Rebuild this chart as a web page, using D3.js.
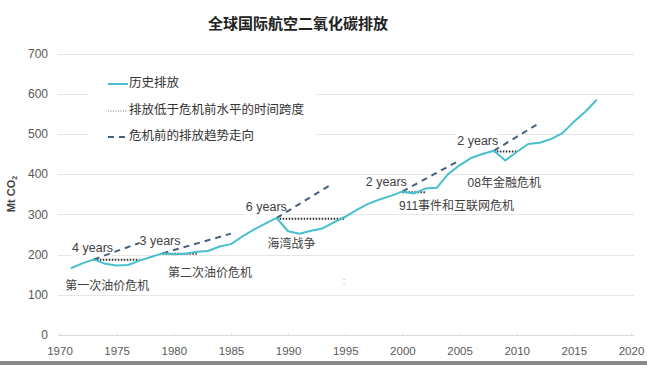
<!DOCTYPE html>
<html><head><meta charset="utf-8">
<script src="https://cdn.jsdelivr.net/npm/d3@7/dist/d3.min.js"></script>
<style>
html,body{margin:0;padding:0;background:#fff;}
svg{display:block;font-family:"Liberation Sans","Noto Sans CJK SC",Arial,sans-serif;}
</style></head>
<body>
<svg id="chart" width="647" height="365"></svg>
<script>
// ---- data ----
const years = [1971,1972,1973,1974,1975,1976,1977,1978,1979,1980,1981,1982,1983,1984,1985,1986,1987,1988,1989,1990,1991,1992,1993,1994,1995,1996,1997,1998,1999,2000,2001,2002,2003,2004,2005,2006,2007,2008,2009,2010,2011,2012,2013,2014,2015,2016,2017];
const emissions = [166,178,188,177,173,174,185,194,203,201,202,207,209,220,226,245,262,277,291,258,252,259,265,280,294,311,326,337,346,357,352,364,366,400,422,440,450,458,434,455,475,478,487,502,530,555,585];
// time span below pre-crisis level: [startYear, endYear, level]
const spanStart = [1973,1979,1989,2000,2008];
const spanEnd   = [1977,1982,1995,2002,2010];
const spanLevel = [187,202,289,355,456];
// pre-crisis trend: [startYear, startValue, endYear, endValue]
const trendStartYear = [1973,1979,1989,2000,2008];
const trendStartVal  = [188,203,291,357,458];
const trendEndYear   = [1977,1985,1993.7,2004.8,2011.8];
const trendEndVal    = [229,252,373,431,524];
// annotations (anchored in data space)
const spanLabels = ["4 years","3 years","6 years","2 years","2 years"];
const spanLabelYear = [1971.1,1977.0,1986.3,1996.8,2004.8];
const spanLabelVal  = [214,231,317,378,481];
const crisisLabels = ["第一次油价危机","第二次油价危机","海湾战争","911事件和互联网危机","08年金融危机"];
const crisisYear = [1970.5,1979.5,1988.2,1999.7,2005.7];
const crisisVal  = [120,153,224,318,375];
const yTicks = [0,100,200,300,400,500,600,700];
const xTicks = [1970,1975,1980,1985,1990,1995,2000,2005,2010,2015,2020];
const legendLabels = ["历史排放","排放低于危机前水平的时间跨度","危机前的排放趋势走向"];
const title = "全球国际航空二氧化碳排放";

// ---- drawing ----
const svg = d3.select("#chart");
const x = d3.scaleLinear().domain([1970,2020]).range([59.5,631]);
const y = d3.scaleLinear().domain([0,700]).range([335,53.5]);
const cLine = "#47bfcf", cDash = "#44607e", cDot = "#2b2b2b", cText = "#404040", cTick = "#595959";

svg.append("rect").attr("width",647).attr("height",365).attr("fill","#fff");

// title
svg.append("text").attr("x",298).attr("y",25).attr("text-anchor","middle")
  .attr("dominant-baseline","middle").attr("font-size",15).attr("font-weight","bold")
  .attr("fill","#222").text(title);

// grid
svg.append("g").selectAll("line").data(yTicks).join("line")
  .attr("x1",58).attr("x2",634).attr("y1",d=>Math.round(y(d))+0.5).attr("y2",d=>Math.round(y(d))+0.5)
  .attr("stroke",d=>d===0?"#d9d9d9":"#e6e6e6").attr("stroke-width",1);

// y axis labels
const yAxis = d3.axisLeft(y).tickValues(yTicks).tickSize(0).tickPadding(0);
const gy = svg.append("g").attr("transform","translate(48,0)").call(yAxis);
gy.select(".domain").remove();
gy.selectAll("text").attr("font-size",12).attr("fill",cTick).attr("font-family","Liberation Sans, Arial, sans-serif");

// x axis
const xAxis = d3.axisBottom(x).tickValues(xTicks).tickFormat(d3.format("d")).tickSize(3).tickPadding(8);
const gx = svg.append("g").attr("transform","translate(0,335.5)").call(xAxis);
gx.select(".domain").remove();
gx.selectAll(".tick line").attr("stroke","#e0e0e0").attr("y2",-3);
gx.selectAll("text").attr("font-size",11.5).attr("fill",cTick).attr("font-family","Liberation Sans, Arial, sans-serif");

// y axis title
svg.append("text").attr("transform","translate(15,194) rotate(-90)")
  .attr("text-anchor","middle").attr("font-size",11).attr("font-weight","bold").attr("fill",cText)
  .call(t=>{t.append("tspan").text("Mt CO");t.append("tspan").attr("font-size",7).attr("dy",2).text("2");});

// legend background
svg.append("rect").attr("x",88).attr("y",68).attr("width",228).attr("height",82).attr("fill","#fff");

// trend lines (dashed)
const trends = trendStartYear.map((d,i)=>[[d,trendStartVal[i]],[trendEndYear[i],trendEndVal[i]]]);
const lineGen = d3.line().x(d=>x(d[0])).y(d=>y(d[1]));

// label backgrounds + span labels
const sl = svg.append("g").selectAll("g").data(spanLabels).join("g");
sl.append("rect").attr("x",(d,i)=>x(spanLabelYear[i])-1).attr("y",(d,i)=>y(spanLabelVal[i])-8)
  .attr("width",41).attr("height",15).attr("fill","#fff");

svg.append("g").selectAll("path").data(trends).join("path")
  .attr("d",lineGen).attr("fill","none").attr("stroke",cDash).attr("stroke-width",2)
  .attr("stroke-dasharray","6,5");

// span dotted lines
svg.append("g").selectAll("line").data(spanStart).join("line")
  .attr("x1",(d)=>x(d)).attr("x2",(d,i)=>x(spanEnd[i]))
  .attr("y1",(d,i)=>y(spanLevel[i])).attr("y2",(d,i)=>y(spanLevel[i]))
  .attr("stroke",cDot).attr("stroke-width",2).attr("stroke-dasharray","1.5,1.5");

// history line
const series = years.map((d,i)=>[d,emissions[i]]);
svg.append("path").datum(series).attr("d",lineGen).attr("fill","none")
  .attr("stroke",cLine).attr("stroke-width",2).attr("stroke-linejoin","round");

// span labels text
svg.append("g").selectAll("text").data(spanLabels).join("text")
  .attr("x",(d,i)=>x(spanLabelYear[i])).attr("y",(d,i)=>y(spanLabelVal[i]))
  .attr("dominant-baseline","middle").attr("font-size",12.5).attr("fill",cText).text(d=>d);

// crisis labels
svg.append("g").selectAll("text").data(crisisLabels).join("text")
  .attr("x",(d,i)=>x(crisisYear[i])).attr("y",(d,i)=>y(crisisVal[i]))
  .attr("dominant-baseline","middle").attr("font-size",12).attr("fill",cText).text(d=>d);

// stray marks
svg.append("text").attr("x",x(1994.9)).attr("y",y(132)).attr("text-anchor","middle")
  .attr("dominant-baseline","middle").attr("font-size",9).attr("fill","#aaa").text(":");

// legend
const lg = svg.append("g");
const ly = [84,111,137];
lg.append("line").attr("x1",108).attr("x2",128).attr("y1",ly[0]).attr("y2",ly[0]).attr("stroke",cLine).attr("stroke-width",2);
lg.append("line").attr("x1",108).attr("x2",128).attr("y1",ly[1]).attr("y2",ly[1]).attr("stroke","#777").attr("stroke-width",1.2).attr("stroke-dasharray","1,1.5");
lg.append("line").attr("x1",108).attr("x2",130).attr("y1",ly[2]).attr("y2",ly[2]).attr("stroke",cDash).attr("stroke-width",2).attr("stroke-dasharray","6,5");
lg.selectAll("text").data(legendLabels).join("text")
  .attr("x",129).attr("y",(d,i)=>ly[i]).attr("dominant-baseline","middle")
  .attr("font-size",12.5).attr("fill","#333").text(d=>d);

// bottom border strip
svg.append("rect").attr("x",0).attr("y",361).attr("width",647).attr("height",4).attr("fill","#8a8a8a");
</script>
</body></html>
